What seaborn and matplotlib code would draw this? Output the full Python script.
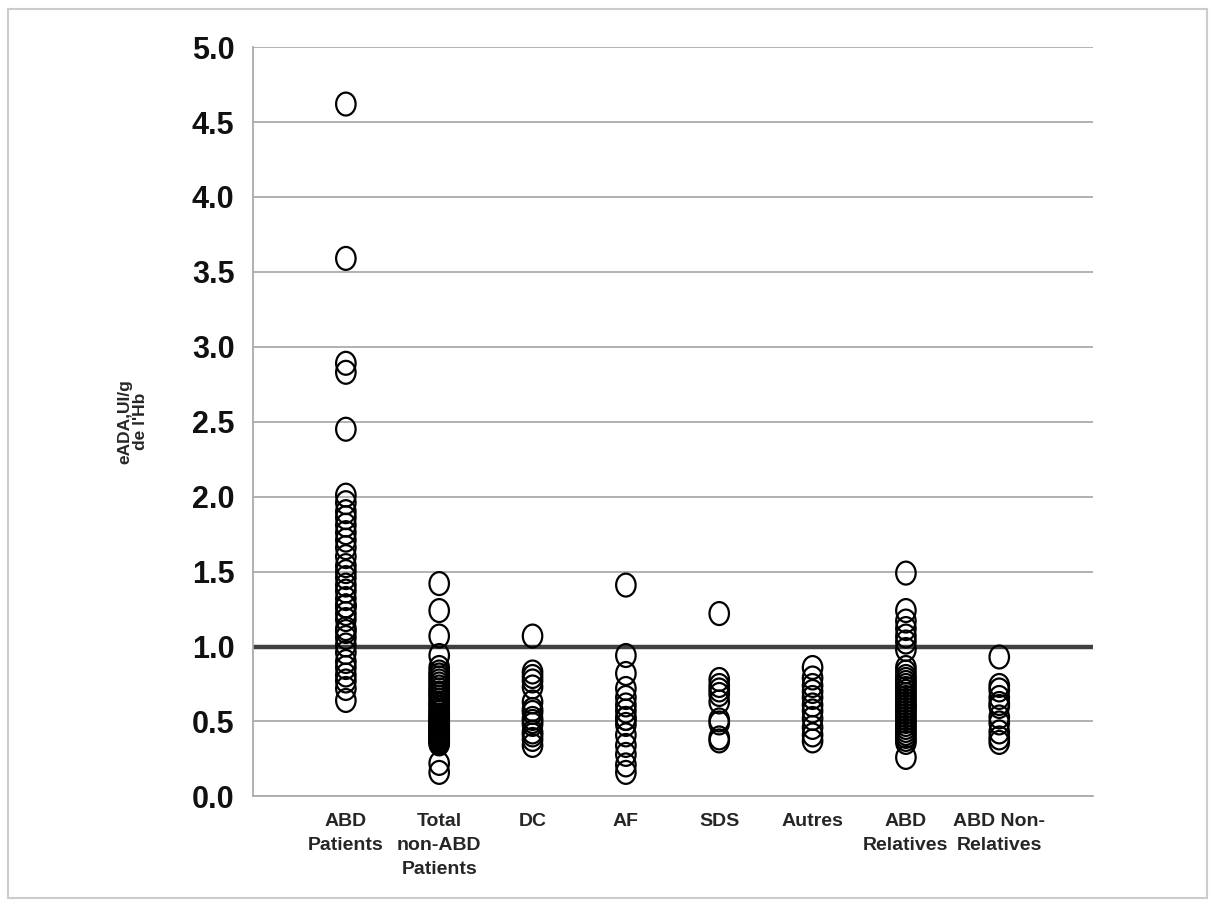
import numpy as np
import pandas as pd
import matplotlib
matplotlib.use("Agg")
import matplotlib.pyplot as plt
from matplotlib.markers import MarkerStyle
from matplotlib.transforms import Affine2D
from matplotlib.patches import Rectangle
import seaborn as sns

# values (eADA, UI/g de l'Hb)
abd_patients = [4.62, 3.59, 2.89, 2.83, 2.45, 2.01, 1.96, 1.90, 1.86, 1.81, 1.76, 1.71,
                1.66, 1.60, 1.54, 1.50, 1.46, 1.41, 1.37, 1.32, 1.27, 1.27, 1.27, 1.22,
                1.18, 1.12, 1.10, 1.06, 1.01, 0.96, 0.90, 0.86, 0.81, 0.77, 0.72, 0.64]
total_non_abd = [1.42, 1.24, 1.07, 0.94, 0.86, 0.83, 0.81, 0.79, 0.77, 0.75, 0.73, 0.71,
                 0.69, 0.68, 0.66, 0.64, 0.62, 0.61, 0.59, 0.57, 0.56, 0.54, 0.53, 0.52,
                 0.51, 0.50, 0.49, 0.48, 0.47, 0.46, 0.45, 0.44, 0.43, 0.42, 0.41, 0.40,
                 0.39, 0.38, 0.37, 0.36, 0.35, 0.22, 0.16]
dc = [1.07, 0.83, 0.80, 0.77, 0.73, 0.63, 0.58, 0.56, 0.52, 0.50, 0.48, 0.43, 0.41, 0.38, 0.34]
af = [1.41, 0.94, 0.82, 0.72, 0.66, 0.61, 0.57, 0.52, 0.52, 0.48, 0.41, 0.34, 0.28, 0.21, 0.16]
sds = [1.22, 0.78, 0.74, 0.71, 0.68, 0.63, 0.51, 0.49, 0.39, 0.37]
autres = [0.86, 0.79, 0.74, 0.70, 0.66, 0.61, 0.57, 0.52, 0.46, 0.41, 0.37]
abd_relatives = [1.49, 1.24, 1.17, 1.12, 1.07, 1.03, 0.98, 0.86, 0.83, 0.80, 0.78, 0.76,
                 0.74, 0.72, 0.70, 0.68, 0.66, 0.64, 0.62, 0.60, 0.60, 0.58, 0.56, 0.54,
                 0.52, 0.50, 0.48, 0.46, 0.44, 0.42, 0.40, 0.38, 0.36, 0.26]
abd_non_relatives = [0.93, 0.74, 0.71, 0.66, 0.62, 0.60, 0.53, 0.49, 0.43, 0.39, 0.36]

groups = ["ABD\nPatients", "Total\nnon-ABD\nPatients", "DC", "AF", "SDS", "Autres",
          "ABD\nRelatives", "ABD Non-\nRelatives"]
series = [abd_patients, total_non_abd, dc, af, sds, autres, abd_relatives, abd_non_relatives]
threshold = 1.0
yticks = [0.0, 0.5, 1.0, 1.5, 2.0, 2.5, 3.0, 3.5, 4.0, 4.5, 5.0]

df = pd.DataFrame({
    "group": [g for g, vals in zip(groups, series) for _ in vals],
    "eada": [v for vals in series for v in vals],
})

sns.set_style("white")
plt.rcParams['font.family'] = ['Liberation Sans', 'DejaVu Sans']

fig = plt.figure(figsize=(12.14, 9.06), dpi=100)
ax = fig.add_axes([0.208, 0.121, 0.692, 0.827])

# slightly tall ellipse marker, as in the reference
oval = MarkerStyle("o", transform=Affine2D().scale(0.85, 1.0))
sns.stripplot(data=df, x="group", y="eada", order=groups, jitter=False,
              marker=oval, size=16.5, edgecolor="black", linewidth=1.6,
              facecolor="none", ax=ax, zorder=3)
for coll in ax.collections:
    coll.set_facecolor("none")
    coll.set_edgecolor("black")

ax.axhline(threshold, color="#404040", lw=3.2, zorder=2)

ax.set_xlim(-1, len(groups))
ax.set_ylim(0, 5.0)
ax.set_yticks(yticks)
ax.set_yticklabels([f"{t:.1f}" for t in yticks], fontsize=22, fontweight="bold", color="#111111")
ax.yaxis.grid(True, color="#ababab", lw=1.3)
ax.set_axisbelow(True)
ax.tick_params(axis="y", length=7, width=1.3, color="#ababab", pad=6)
ax.tick_params(axis="x", length=0, pad=12)
for lab in ax.get_xticklabels():
    lab.set_fontsize(14)
    lab.set_fontweight("bold")
    lab.set_linespacing(1.55)

for side in ["top", "right"]:
    ax.spines[side].set_visible(False)
for side in ["left", "bottom"]:
    ax.spines[side].set_color("#ababab")
    ax.spines[side].set_linewidth(1.3)

ax.set_xlabel("")
ax.set_ylabel("eADA,UI/g\nde l'Hb", fontsize=12.5, fontweight="bold", linespacing=1.0)
ax.yaxis.set_label_coords(-0.125, 0.5)

# light frame around the whole picture
fig.patches.append(Rectangle((0.007, 0.009), 0.987, 0.981, transform=fig.transFigure,
                             fill=False, edgecolor="#cccccc", lw=1.5))

fig.savefig("out.png", dpi=100)
